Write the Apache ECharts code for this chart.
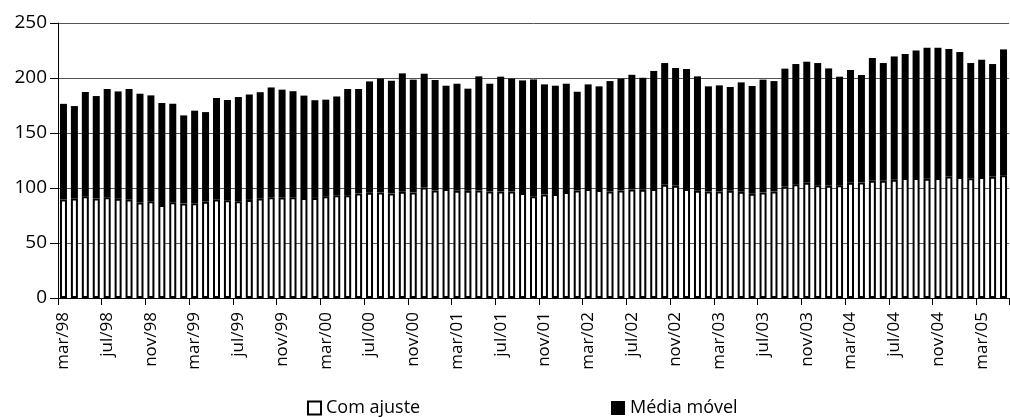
<!DOCTYPE html>
<html>
<head>
<meta charset="utf-8">
<script src="https://cdn.jsdelivr.net/npm/echarts@6/dist/echarts.min.js"></script>
<style>
  html, body { margin: 0; padding: 0; background: #fff; }
  #chart { width: 1010px; height: 417px; }
</style>
</head>
<body>
<div id="chart"></div>
<script>
// meses (mar/98 a mai/05)
var meses = [
  'mar/98', 'abr/98', 'mai/98', 'jun/98', 'jul/98', 'ago/98', 'set/98', 'out/98', 'nov/98', 'dez/98',
  'jan/99', 'fev/99', 'mar/99', 'abr/99', 'mai/99', 'jun/99', 'jul/99', 'ago/99', 'set/99', 'out/99', 'nov/99', 'dez/99',
  'jan/00', 'fev/00', 'mar/00', 'abr/00', 'mai/00', 'jun/00', 'jul/00', 'ago/00', 'set/00', 'out/00', 'nov/00', 'dez/00',
  'jan/01', 'fev/01', 'mar/01', 'abr/01', 'mai/01', 'jun/01', 'jul/01', 'ago/01', 'set/01', 'out/01', 'nov/01', 'dez/01',
  'jan/02', 'fev/02', 'mar/02', 'abr/02', 'mai/02', 'jun/02', 'jul/02', 'ago/02', 'set/02', 'out/02', 'nov/02', 'dez/02',
  'jan/03', 'fev/03', 'mar/03', 'abr/03', 'mai/03', 'jun/03', 'jul/03', 'ago/03', 'set/03', 'out/03', 'nov/03', 'dez/03',
  'jan/04', 'fev/04', 'mar/04', 'abr/04', 'mai/04', 'jun/04', 'jul/04', 'ago/04', 'set/04', 'out/04', 'nov/04', 'dez/04',
  'jan/05', 'fev/05', 'mar/05', 'abr/05', 'mai/05'
]

// Com ajuste (barra branca)
var comAjuste = [
  89.6, 90.4, 92.4, 90.5, 91.5, 90.2, 89.5, 86.8, 88.0, 84.5,
  87.0, 86.0, 86.2, 87.6, 89.5, 88.8, 88.0, 89.2, 90.4, 91.6,
  91.3, 91.6, 90.8, 91.0, 92.4, 93.4, 93.3, 95.1, 95.7, 96.0,
  95.1, 96.6, 96.0, 100.5, 97.8, 99.0, 97.5, 97.5, 97.8, 96.9,
  96.9, 96.9, 95.4, 92.4, 94.2, 94.5, 96.3, 97.8, 99.0, 98.1,
  96.9, 97.8, 98.7, 98.4, 99.0, 103.0, 102.1, 99.1, 97.5, 96.9,
  96.9, 97.5, 96.6, 94.8, 96.0, 96.9, 101.2, 103.3, 104.8, 102.4,
  102.1, 102.4, 104.8, 105.1, 106.6, 106.6, 107.5, 109.0, 109.0, 108.5,
  109.0, 110.5, 110.0, 108.8, 110.0, 110.3, 111.5
]

// Média móvel (barra preta, empilhada)
var mediaMovel = [
  86.9, 84.1, 94.9, 93.1, 98.5, 97.6, 100.5, 98.9, 96.2, 92.8,
  89.6, 80.0, 84.1, 81.4, 92.3, 91.2, 94.7, 95.8, 96.7, 99.8,
  98.1, 96.4, 93.2, 88.8, 87.9, 89.8, 96.7, 94.9, 101.2, 103.5,
  102.4, 107.6, 102.5, 103.4, 100.4, 94.0, 97.3, 92.8, 103.7, 97.9,
  104.3, 102.5, 102.4, 106.3, 100.0, 98.5, 98.5, 89.7, 95.2, 94.3,
  100.3, 101.6, 104.2, 101.8, 107.4, 110.6, 107.0, 109.1, 104.0, 95.5,
  96.4, 94.3, 99.4, 97.9, 102.5, 100.3, 107.3, 109.4, 110.0, 111.2,
  106.6, 98.8, 102.5, 97.6, 111.6, 107.0, 112.1, 112.8, 116.1, 119.0,
  118.5, 115.9, 113.6, 104.8, 106.6, 102.4, 114.5
]

var yTicks = [0, 50, 100, 150, 200, 250]

var fonte = '"Open Sans", "Noto Sans", sans-serif'

var chart = echarts.init(document.getElementById('chart'))

var option = {
  animation: false,
  textStyle: { fontFamily: fonte },
  grid: {
    left: 58,
    right: 1,
    top: 23,
    bottom: 119,
  },
  legend: [
    {
      data: ['Com ajuste'],
      left: 302,
      top: 394,
      icon: 'rect',
      itemWidth: 13,
      itemHeight: 13,
      itemGap: 6,
      textStyle: { fontSize: 18, color: '#000', fontFamily: fonte },
    },
    {
      data: ['Média móvel'],
      left: 606,
      top: 394,
      icon: 'rect',
      itemWidth: 14,
      itemHeight: 14,
      textStyle: { fontSize: 18, color: '#000', fontFamily: fonte },
    },
  ],
  xAxis: {
    type: 'category',
    data: meses,
    boundaryGap: true,
    axisLine: { lineStyle: { color: '#000', width: 1 } },
    axisTick: {
      show: true,
      interval: 3,
      length: 7,
      lineStyle: { color: '#000' },
    },
    axisLabel: {
      interval: 3,
      rotate: 90,
      margin: 14,
      fontSize: 17,
      color: '#000',
      fontFamily: fonte,
    },
  },
  yAxis: {
    type: 'value',
    min: yTicks[0],
    max: yTicks[yTicks.length - 1],
    interval: 50,
    axisLine: { show: true, lineStyle: { color: '#000' } },
    axisTick: { show: true, length: 8, lineStyle: { color: '#000' } },
    axisLabel: {
      fontSize: 19,
      color: '#000',
      margin: 11,
      fontFamily: fonte,
    },
    splitLine: { show: true, lineStyle: { color: '#555', width: 1 } },
  },
  series: [
    {
      name: 'Com ajuste',
      type: 'bar',
      stack: 'total',
      barWidth: 7,
      data: comAjuste,
      itemStyle: { color: '#fff', borderColor: '#000', borderWidth: 2 },
    },
    {
      name: 'Média móvel',
      type: 'bar',
      stack: 'total',
      barWidth: 7,
      data: mediaMovel,
      itemStyle: { color: '#000' },
    },
  ],
}

chart.setOption(option)
</script>
</body>
</html>
